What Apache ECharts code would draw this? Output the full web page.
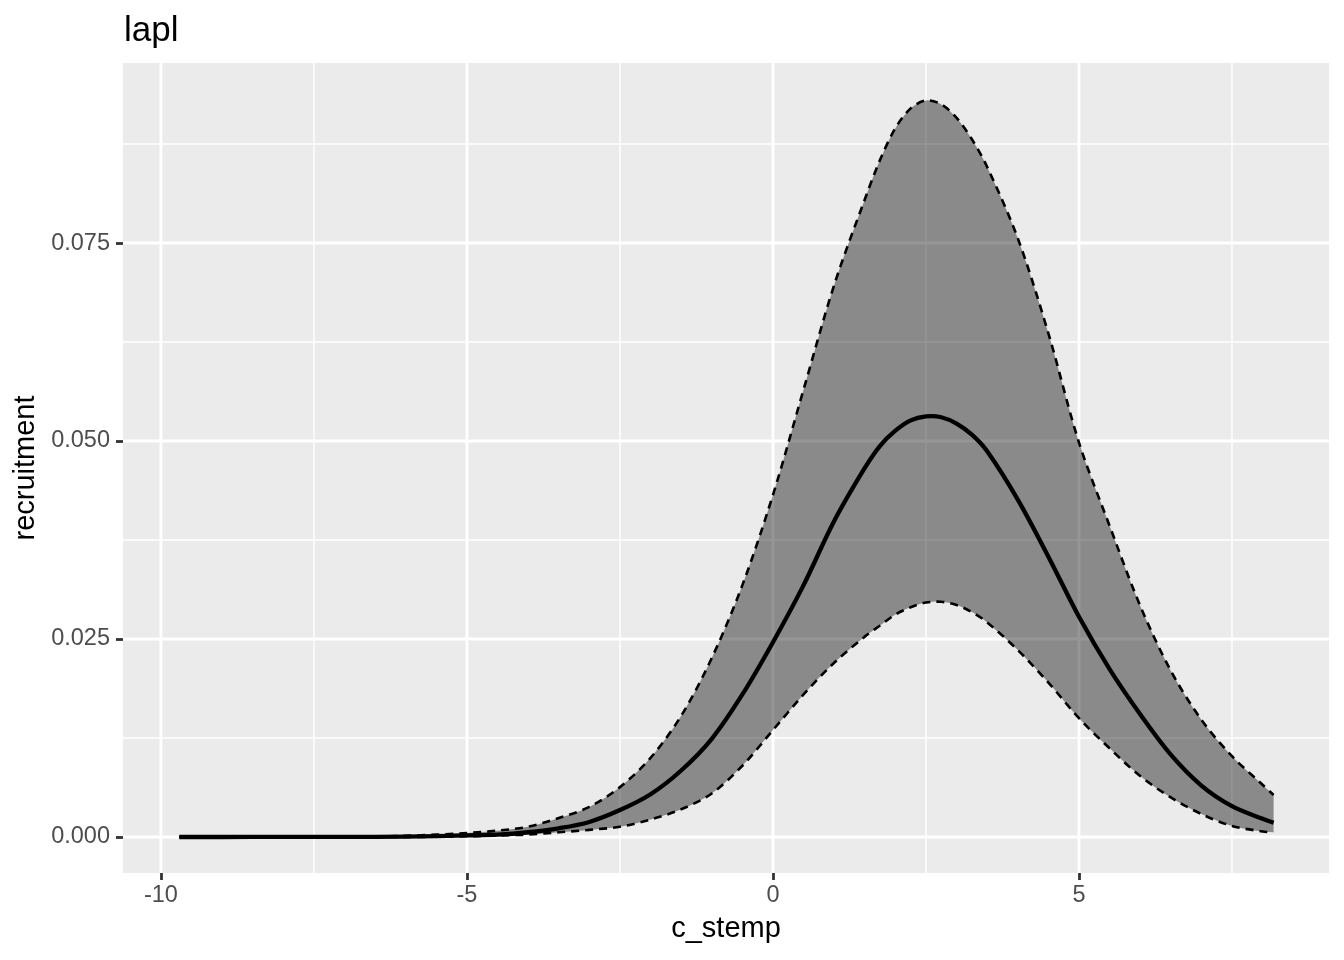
<!DOCTYPE html>
<html>
<head>
<meta charset="utf-8">
<script src="https://cdn.jsdelivr.net/npm/echarts@6/dist/echarts.min.js"></script>
<style>
html,body{margin:0;padding:0;background:#fff;}
#chart{width:1344px;height:960px;}
</style>
</head>
<body>
<div id="chart"></div>
<script>
// ---- data ----
const xVals = [-9.7, -9, -8, -7, -6, -5, -4.5, -4, -3.5, -3, -2.5, -2, -1.5, -1, -0.5, 0, 0.5, 1, 1.5, 1.75, 2, 2.25, 2.5, 2.75, 3, 3.25, 3.5, 4, 4.5, 5, 5.5, 6, 6.5, 7, 7.5, 8, 8.18];
const meanVals = [0, 0, 0.00001, 0.00002, 0.00005, 0.0002, 0.0003, 0.0006, 0.0011, 0.0019, 0.0034, 0.0054, 0.0084, 0.0124, 0.0180, 0.0246, 0.0318, 0.0399, 0.0466, 0.0494, 0.0513, 0.0526, 0.0531, 0.0530, 0.0522, 0.0508, 0.0487, 0.0426, 0.0354, 0.0278, 0.0212, 0.0155, 0.0104, 0.0065, 0.0039, 0.0023, 0.0018];
const upperVals = [0, 0, 0.00002, 0.00005, 0.00015, 0.0005, 0.0008, 0.0013, 0.0024, 0.0038, 0.0063, 0.0100, 0.0153, 0.0226, 0.0318, 0.0432, 0.0565, 0.0697, 0.0805, 0.0855, 0.0895, 0.0920, 0.0930, 0.0925, 0.0908, 0.0881, 0.0846, 0.0756, 0.0636, 0.0498, 0.0393, 0.0292, 0.0210, 0.0148, 0.0102, 0.0066, 0.0053];
const lowerVals = [0, 0, 0, 0, 0, 0.0001, 0.0002, 0.0003, 0.0006, 0.0009, 0.0013, 0.0022, 0.0035, 0.0055, 0.0090, 0.0135, 0.0180, 0.0220, 0.0253, 0.0267, 0.0281, 0.0290, 0.0296, 0.0297, 0.0293, 0.0284, 0.0271, 0.0236, 0.0195, 0.0150, 0.0112, 0.0077, 0.0050, 0.0029, 0.0014, 0.0007, 0.0006];

const xTicks = [-10, -5, 0, 5];
const xMinor = [-7.5, -2.5, 2.5, 7.5];
const yTicks = [0, 0.025, 0.05, 0.075];
const yMinor = [0.0125, 0.0375, 0.0625, 0.0875];

const titleText = 'lapl';
const xName = 'c_stemp';
const yName = 'recruitment';

// ---- build ----
const FONT = '"Liberation Sans", Arial, Helvetica, sans-serif';
const SMOOTH = 0.33;

const gridLines = [];
xMinor.forEach(v => gridLines.push([v, 0, 0]));
yMinor.forEach(v => gridLines.push([v, 1, 0]));
xTicks.forEach(v => gridLines.push([v, 0, 1]));
yTicks.forEach(v => gridLines.push([v, 1, 1]));

function pts(api, ys) {
  return xVals.map((x, i) => api.coord([x, ys[i]]));
}

function lineSeries(ys, z, style) {
  return {
    type: 'custom', z: z, silent: true, data: [[0, 0]],
    renderItem: function (params, api) {
      return {
        type: 'polyline',
        shape: {points: pts(api, ys), smooth: SMOOTH},
        style: Object.assign({fill: null, stroke: '#000'}, style)
      };
    }
  };
}

const chart = echarts.init(document.getElementById('chart'), null, {renderer: 'canvas'});
chart.setOption({
  animation: false,
  backgroundColor: '#ffffff',
  title: {
    text: titleText, left: 119, top: 9,
    textStyle: {fontFamily: FONT, fontSize: 35, fontWeight: 'normal', color: '#000'}
  },
  grid: {left: 123, right: 15, top: 63, bottom: 87, show: true, backgroundColor: '#EBEBEB', borderWidth: 0},
  xAxis: {
    type: 'value', min: -10.62, max: 9.085,
    axisLine: {show: false, onZero: false},
    splitLine: {show: false},
    axisTick: {show: true, customValues: xTicks, length: 7, lineStyle: {color: '#333333', width: 2.8}},
    axisLabel: {customValues: xTicks, color: '#4D4D4D', fontSize: 23.5, fontFamily: FONT, margin: 11,
      formatter: v => String(v)},
    name: xName, nameLocation: 'middle', nameGap: 41,
    nameTextStyle: {fontFamily: FONT, fontSize: 29, color: '#000'}
  },
  yAxis: {
    type: 'value', min: -0.004545, max: 0.09773,
    axisLine: {show: false, onZero: false},
    splitLine: {show: false},
    axisTick: {show: true, customValues: yTicks, length: 7, lineStyle: {color: '#333333', width: 2.8}},
    axisLabel: {customValues: yTicks, color: '#4D4D4D', fontSize: 23.5, fontFamily: FONT, margin: 13,
      formatter: v => Number(v).toFixed(3)},
    name: yName, nameLocation: 'middle', nameGap: 78,
    nameTextStyle: {fontFamily: FONT, fontSize: 29, color: '#000'}
  },
  series: [
    {
      type: 'custom', z: 1, silent: true,
      data: gridLines,
      renderItem: function (params, api) {
        const cs = params.coordSys;
        const v = api.value(0), isY = api.value(1), major = api.value(2);
        const w = major ? 2.85 : 1.42;
        let shape;
        if (isY) {
          const p = api.coord([0, v]);
          shape = {x1: cs.x, y1: p[1], x2: cs.x + cs.width, y2: p[1]};
        } else {
          const p = api.coord([v, 0]);
          shape = {x1: p[0], y1: cs.y, x2: p[0], y2: cs.y + cs.height};
        }
        return {type: 'line', shape: shape, style: {stroke: '#ffffff', lineWidth: w}};
      }
    },
    {
      type: 'custom', z: 2, silent: true, data: [[0, 0]],
      renderItem: function (params, api) {
        const up = pts(api, upperVals);
        const lo = pts(api, lowerVals).reverse();
        const poly = [up[0]].concat(up, [up[up.length - 1]], [lo[0]], lo, [lo[lo.length - 1]]);
        return {
          type: 'polygon',
          shape: {points: poly, smooth: SMOOTH},
          style: {fill: 'rgba(0,0,0,0.41)', stroke: null}
        };
      }
    },
    lineSeries(upperVals, 3, {lineWidth: 2.6, lineDash: [8, 6], lineCap: 'butt'}),
    lineSeries(lowerVals, 3, {lineWidth: 2.6, lineDash: [8, 6], lineCap: 'butt'}),
    lineSeries(meanVals, 4, {lineWidth: 4.3, lineCap: 'butt', lineJoin: 'round'})
  ]
});
</script>
</body>
</html>
